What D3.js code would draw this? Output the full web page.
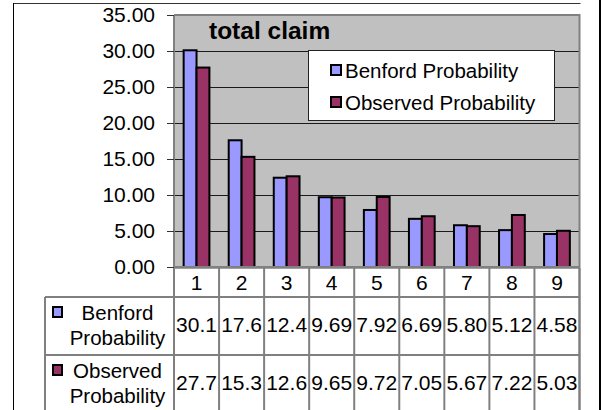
<!DOCTYPE html>
<html>
<head>
<meta charset="utf-8">
<script src="https://cdn.jsdelivr.net/npm/d3@7"></script>
<style>
  html, body { margin: 0; padding: 0; background: #fff; }
  svg { display: block; font-family: "Liberation Sans", Arial, sans-serif; }
</style>
</head>
<body>
<svg id="chart" width="601" height="410"></svg>
<script>
// First-digit distribution of the "total claim" amounts vs. Benford's law
const digits = ["1", "2", "3", "4", "5", "6", "7", "8", "9"];
const benford = [30.1, 17.6, 12.4, 9.69, 7.92, 6.69, 5.80, 5.12, 4.58];
const observed = [27.7, 15.3, 12.6, 9.65, 9.72, 7.05, 5.67, 7.22, 5.03];
const seriesNames = ["Benford Probability", "Observed Probability"];
const seriesTableLabels = [["Benford", "Probability"], ["Observed", "Probability"]];
const seriesColors = ["#9999FF", "#993366"];
const yTicks = [0, 5, 10, 15, 20, 25, 30, 35];
const chartTitle = "total claim";

const series = [benford, observed];
const svg = d3.select("#chart");

const plot = { left: 174, right: 579.5, top: 15, bottom: 267 };

const x = d3.scaleBand().domain(digits).range([plot.left, plot.right]).padding(0);
const bw = x.bandwidth() / 3.5; // bar width for a 150% gap
const xInner = d3.scaleBand().domain(d3.range(series.length))
  .range([bw * 0.75, x.bandwidth() - bw * 0.75]).padding(0);
const y = d3.scaleLinear().domain([0, 35]).range([plot.bottom, plot.top]);

// chart area frame
svg.append("path")
  .attr("d", `M13.5,410 V3.5 H580.5`)
  .attr("fill", "none").attr("stroke", "#333").attr("stroke-width", 1);
svg.append("line")
  .attr("x1", 13.5).attr("x2", 13.5).attr("y1", 3).attr("y2", 410)
  .attr("stroke", "#000").attr("stroke-width", 1);
svg.append("rect")
  .attr("x", 599).attr("y", 0).attr("width", 2).attr("height", 410)
  .attr("fill", "#000");

// plot background
svg.append("rect")
  .attr("x", plot.left).attr("y", plot.top)
  .attr("width", plot.right - plot.left).attr("height", plot.bottom - plot.top)
  .attr("fill", "#C0C0C0");

// gridlines
svg.append("g")
  .selectAll("line")
  .data(yTicks.filter(t => t > 0 && t < 35))
  .join("line")
  .attr("x1", plot.left).attr("x2", plot.right)
  .attr("y1", d => Math.round(y(d)) + 0.5).attr("y2", d => Math.round(y(d)) + 0.5)
  .attr("stroke", "#1a1a1a").attr("stroke-width", 1);

// plot border
svg.append("path")
  .attr("d", `M${plot.left},${plot.top} H${plot.right} V${plot.bottom + 146}`)
  .attr("fill", "none").attr("stroke", "#808080").attr("stroke-width", 2);
svg.append("line")
  .attr("x1", plot.left).attr("x2", plot.left).attr("y1", plot.top).attr("y2", plot.bottom)
  .attr("stroke", "#808080").attr("stroke-width", 2);

// y axis
const yAxis = d3.axisLeft(y).tickValues(yTicks).tickFormat(d3.format(".2f"))
  .tickSizeInner(7).tickSizeOuter(0).tickPadding(12);
const gy = svg.append("g").attr("transform", `translate(${plot.left},0)`).call(yAxis);
gy.select(".domain").remove();
gy.selectAll(".tick line").attr("stroke", "#333").attr("stroke-width", 1);
gy.selectAll(".tick text")
  .attr("font-size", 21).attr("fill", "#000")
  .attr("font-family", "'Liberation Sans', Arial, sans-serif");

// bars
const groups = svg.append("g").selectAll("g")
  .data(digits)
  .join("g")
  .attr("transform", d => `translate(${x(d)},0)`);
groups.selectAll("rect")
  .data((d, i) => series.map((s, k) => ({ k, v: s[i] })))
  .join("rect")
  .attr("x", d => xInner(d.k))
  .attr("width", xInner.bandwidth())
  .attr("y", d => y(d.v))
  .attr("height", d => y(0) - y(d.v))
  .attr("fill", d => seriesColors[d.k])
  .attr("stroke", "#000").attr("stroke-width", 2);

// category axis line
svg.append("line")
  .attr("x1", plot.left).attr("x2", plot.right).attr("y1", plot.bottom).attr("y2", plot.bottom)
  .attr("stroke", "#808080").attr("stroke-width", 2);

// title
svg.append("text")
  .attr("x", 209).attr("y", 39)
  .attr("font-size", 24.5).attr("font-weight", "bold")
  .text(chartTitle);

// legend
const legend = svg.append("g");
legend.append("rect")
  .attr("x", 308.5).attr("y", 50.5).attr("width", 246).attr("height", 70)
  .attr("fill", "#fff").attr("stroke", "#222").attr("stroke-width", 1);
const li = legend.selectAll("g").data(seriesNames).join("g")
  .attr("transform", (d, i) => `translate(0,${70 + i * 32})`);
li.append("rect")
  .attr("x", 331).attr("y", -5).attr("width", 10).attr("height", 10)
  .attr("fill", (d, i) => seriesColors[i]).attr("stroke", "#000").attr("stroke-width", 2);
li.append("text")
  .attr("x", 345).attr("y", 7.5)
  .attr("font-size", 20.5)
  .text(d => d);

// data table
const rowY = [268, 297, 355, 415];
const table = svg.append("g");
const colEdges = [plot.left].concat(digits.map(d => x(d) + x.bandwidth()));
// horizontal rules
table.append("line")
  .attr("x1", plot.left).attr("x2", plot.right).attr("y1", rowY[0]).attr("y2", rowY[0])
  .attr("stroke", "#808080").attr("stroke-width", 1.5);
table.selectAll("line.h").data(rowY.slice(1, 3)).join("line").attr("class", "h")
  .attr("x1", 45).attr("x2", plot.right).attr("y1", d => d).attr("y2", d => d)
  .attr("stroke", "#808080").attr("stroke-width", 2);
// vertical rules
table.selectAll("line.v").data(colEdges).join("line").attr("class", "v")
  .attr("x1", d => d).attr("x2", d => d).attr("y1", rowY[0]).attr("y2", 410)
  .attr("stroke", "#808080").attr("stroke-width", 2);
table.append("line")
  .attr("x1", 45).attr("x2", 45).attr("y1", rowY[1]).attr("y2", 410)
  .attr("stroke", "#808080").attr("stroke-width", 2);

// category labels
table.selectAll("text.cat").data(digits).join("text").attr("class", "cat")
  .attr("x", d => x(d) + x.bandwidth() / 2).attr("y", 290)
  .attr("text-anchor", "middle").attr("font-size", 21)
  .text(d => d);

// series rows
const fmt = d3.format(".3r");
const valueBaselines = [332, 390];
series.forEach((s, k) => {
  const top = rowY[k + 1];
  table.append("rect")
    .attr("x", 53).attr("y", top + 10 + (k === 1 ? 0 : 0)).attr("width", 9).attr("height", 10)
    .attr("fill", seriesColors[k]).attr("stroke", "#000").attr("stroke-width", 2);
  const lbl = table.append("text")
    .attr("text-anchor", "middle").attr("font-size", 20.5);
  seriesTableLabels[k].forEach((t, j) => {
    lbl.append("tspan").attr("x", 117.5).attr("y", top + 23 + j * 24.5).text(t);
  });
  table.selectAll(null).data(s).join("text")
    .attr("x", (d, i) => x(digits[i]) + x.bandwidth() / 2)
    .attr("y", valueBaselines[k])
    .attr("text-anchor", "middle").attr("font-size", 21)
    .text(d => fmt(d));
});
</script>
</body>
</html>
